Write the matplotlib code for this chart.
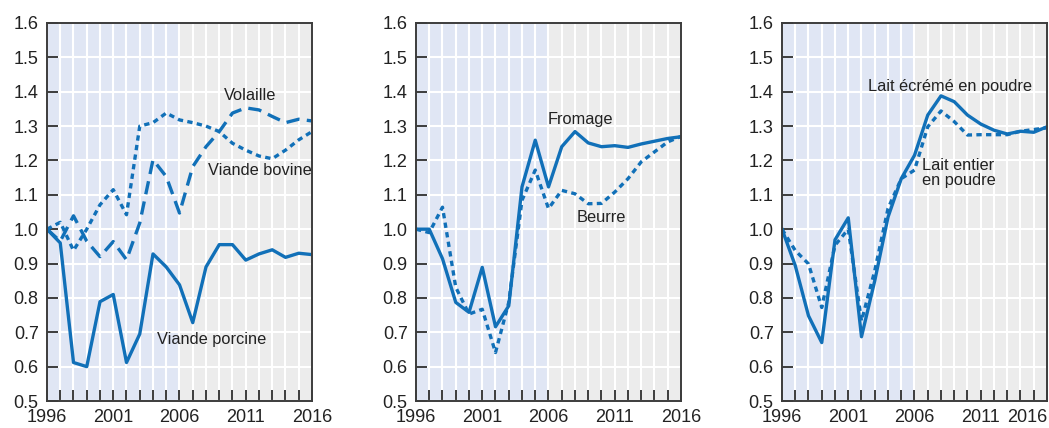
import matplotlib.pyplot as plt
from matplotlib.ticker import MultipleLocator

plt.rcParams['font.family'] = ['Liberation Sans', 'DejaVu Sans']

years = list(range(1996, 2017))

# Viandes
porcine = [1.0, 0.96, 0.612, 0.60, 0.789, 0.81, 0.612, 0.695, 0.928, 0.89, 0.838,
           0.728, 0.89, 0.955, 0.955, 0.91, 0.928, 0.94, 0.918, 0.93, 0.926]
volaille = [1.0, 0.965, 1.039, 0.965, 0.92, 0.964, 0.911, 1.018, 1.202, 1.153, 1.047,
            1.182, 1.24, 1.284, 1.338, 1.353, 1.347, 1.328, 1.31, 1.32, 1.315]
bovine = [1.0, 1.02, 0.938, 1.0, 1.071, 1.115, 1.042, 1.30, 1.31, 1.338, 1.318,
          1.31, 1.30, 1.284, 1.25, 1.23, 1.213, 1.205, 1.23, 1.26, 1.284]

# Produits laitiers
fromage = [1.0, 1.0, 0.914, 0.787, 0.758, 0.889, 0.716, 0.777, 1.123, 1.259, 1.123,
           1.24, 1.284, 1.251, 1.24, 1.243, 1.238, 1.248, 1.256, 1.264, 1.269]
beurre = [1.0, 0.99, 1.064, 0.831, 0.753, 0.767, 0.641, 0.787, 1.084, 1.172, 1.06,
          1.113, 1.103, 1.074, 1.075, 1.108, 1.147, 1.196, 1.225, 1.254, 1.27]

# Lait en poudre
ecreme = [1.0, 0.894, 0.748, 0.67, 0.969, 1.033, 0.687, 0.85, 1.035, 1.147, 1.215,
          1.332, 1.388, 1.371, 1.332, 1.306, 1.288, 1.277, 1.285, 1.282, 1.298]
entier = [1.0, 0.938, 0.899, 0.772, 0.953, 1.0, 0.733, 0.879, 1.06, 1.147, 1.172,
          1.298, 1.344, 1.313, 1.274, 1.275, 1.275, 1.275, 1.285, 1.29, 1.295]

xlabels = [str(y) if (y - 1996) % 5 == 0 else '' for y in years]

blue = '#1170b8'
frame = '#3c3c3c'
txt = '#222222'
fs = 11.8      # annotations
fs_tick = 13

fig = plt.figure(figsize=(10.49, 4.28), dpi=100)
lefts = [47, 416, 782]
axs = [fig.add_axes([l / 1049, 27 / 428, 265 / 1049, 378 / 428]) for l in lefts]

for ax in axs:
    ax.set_xlim(1996, 2016)
    ax.set_ylim(0.5, 1.6)
    ax.axvspan(1996, 2006, color='#e0e6f4', zorder=0)
    ax.axvspan(2006, 2016, color='#ececec', zorder=0)
    ax.set_xticks(years, labels=xlabels)
    ax.yaxis.set_major_locator(MultipleLocator(0.1))
    ax.yaxis.set_major_formatter('{x:.1f}')
    ax.grid(True, color='white', linewidth=1.5, zorder=1)
    ax.set_axisbelow(True)
    ax.tick_params(direction='in', length=8, width=1.4, color=frame,
                   labelsize=fs_tick, labelcolor=txt)
    ax.tick_params(axis='y', pad=6)
    ax.tick_params(axis='x', pad=6)
    for s in ax.spines.values():
        s.set_color(frame)
        s.set_linewidth(1.4)
        s.set_zorder(5)

lw = 2.4
dotted = (0, (1.6, 1.3))
dashed = (0, (4.0, 2.2))

# 1) Viandes
ax = axs[0]
ax.plot(years, porcine, color=blue, lw=lw, zorder=3)
ax.plot(years, volaille, color=blue, lw=lw, linestyle=dashed, zorder=3)
ax.plot(years, bovine, color=blue, lw=lw, linestyle=dotted, zorder=3)
ax.text(2011.3, 1.388, 'Volaille', ha='center', va='center', fontsize=fs, color=txt)
ax.text(2016, 1.17, 'Viande bovine', ha='right', va='center', fontsize=fs, color=txt)
ax.text(2008.4, 0.678, 'Viande porcine', ha='center', va='center', fontsize=fs, color=txt)

# 2) Fromage / Beurre
ax = axs[1]
ax.plot(years, fromage, color=blue, lw=lw, zorder=3)
ax.plot(years, beurre, color=blue, lw=lw, linestyle=dotted, zorder=3)
ax.text(2008.4, 1.318, 'Fromage', ha='center', va='center', fontsize=fs, color=txt)
ax.text(2010.0, 1.033, 'Beurre', ha='center', va='center', fontsize=fs, color=txt)

# 3) Lait en poudre
ax = axs[2]
ax.plot(years, ecreme, color=blue, lw=lw, zorder=3)
ax.plot(years, entier, color=blue, lw=lw, linestyle=dotted, zorder=3)
ax.text(2008.7, 1.414, 'Lait écrémé en poudre', ha='center', va='center', fontsize=fs, color=txt)
ax.text(2006.6, 1.164, 'Lait entier\nen poudre', ha='left', va='center', fontsize=fs,
        color=txt, linespacing=0.95)
ax.xaxis.get_major_ticks()[-1].label1.set_horizontalalignment('right')

fig.savefig('out.png', dpi=100)
